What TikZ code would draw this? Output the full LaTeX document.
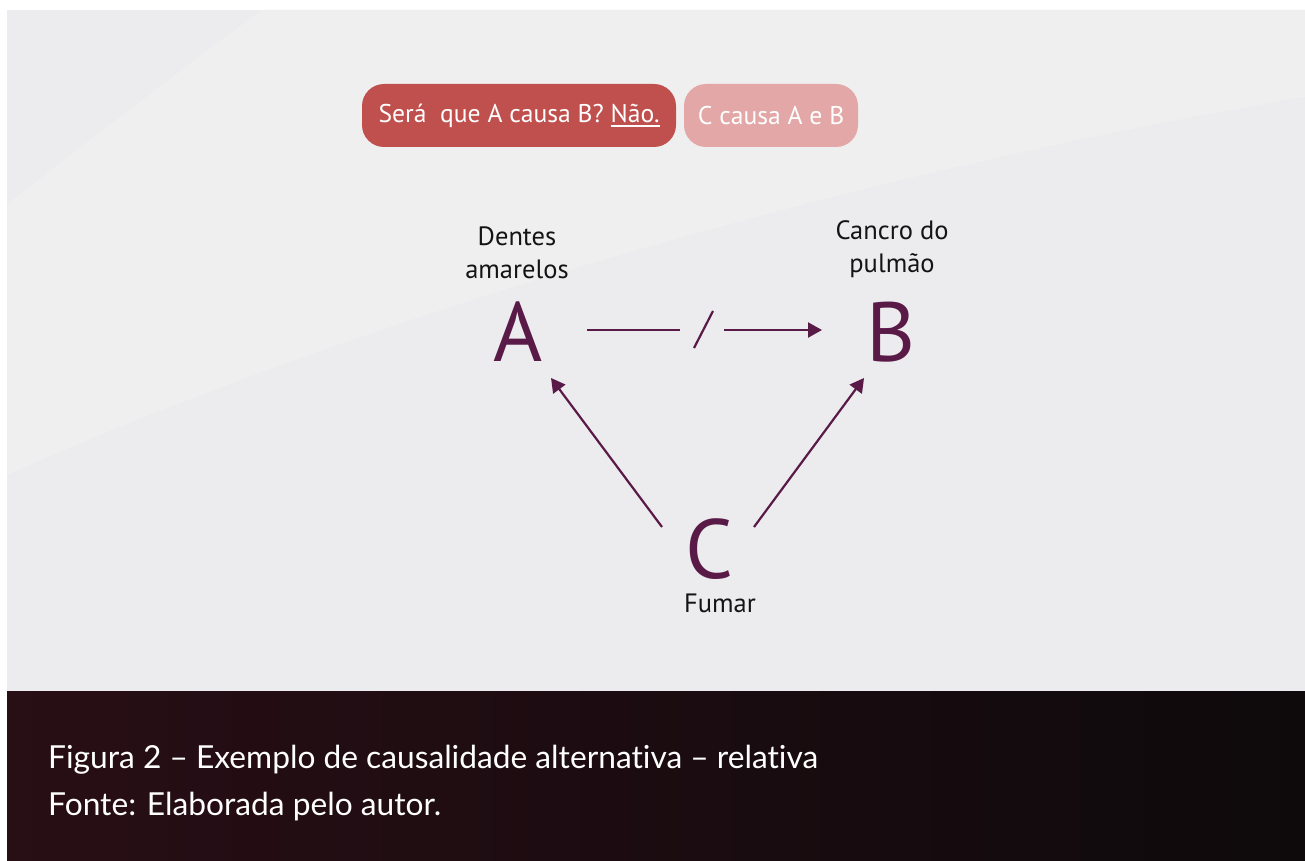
\documentclass[tikz,border=0pt]{standalone}
\usepackage{fontspec}
\setmainfont{PT Sans}
\newfontfamily\capfont[Ligatures=NoCommon]{Lato}
\usetikzlibrary{arrows.meta}

\definecolor{panelA}{HTML}{ECECEE}
\definecolor{panelB}{HTML}{EFEFEF}
\definecolor{pillDark}{HTML}{C0504D}
\definecolor{pillLight}{HTML}{E2A7A6}
\definecolor{plum}{HTML}{5A1A48}
\definecolor{ink}{HTML}{141414}
\definecolor{barL}{RGB}{40,14,21}
\definecolor{barR}{RGB}{14,10,12}

% underline drawn as a thick white bar below the word
\newcommand\thickul[1]{{\setbox0\hbox{#1}\rlap{\rule[-4.5pt]{\wd0}{2pt}}\box0}}

\tikzset{
  pill/.style={rectangle, rounded corners=22pt, minimum height=63pt, inner sep=0pt,
    text=white, font=\fontsize{25.6}{30}\selectfont},
  bigletter/.style={anchor=base, text=plum, inner sep=0pt, font=\fontsize{84}{90}\selectfont},
  label/.style={align=center, text=ink, inner sep=0pt, font=\fontsize{26.5}{33}\selectfont},
  causal/.style={draw=plum, line width=2.2pt, -{Triangle[length=14pt,width=15pt]}},
  plainline/.style={draw=plum, line width=2.2pt},
  caption/.style={anchor=base west, text=white, inner sep=0pt, font=\capfont\fontsize{31.7}{36}\selectfont}
}

\begin{document}
\begin{tikzpicture}[x=1pt, y=-1pt]
  \useasboundingbox (0,0) rectangle (1305,861);
  \fill[white] (0,0) rectangle (1305,861);

  % light panel with soft diagonal bands
  \fill[panelA] (7,10) rectangle (1305,691);
  \fill[panelB] (7,204) .. controls (90,140) and (180,70) .. (262,10) -- (1305,10) -- (1305,97)
       .. controls (900,165) and (400,300) .. (7,475) -- cycle;

  % caption bar
  \shade[left color=barL, right color=barR] (7,691) rectangle (1305,861);

  % question pills
  \node[pill, fill=pillDark, minimum width=314pt] (q) at (519,115.5)
    {Será\ \ que A causa B? \thickul{Não.}};
  \node[pill, fill=pillLight, minimum width=174pt] (ans) at (771,115.5) {C causa A e B};

  % variables
  \node[bigletter] (A) at (518,361) {A};
  \node[bigletter] (B) at (891,361) {B};
  \node[bigletter] (C) at (709,578) {C};

  \node[label] (la) at (517,253) {Dentes\\amarelos};
  \node[label] (lb) at (892,249) {Cancro do\\pulmão};
  \node[label, anchor=base] (lc) at (720,612) {Fumar};

  % connector ends
  \coordinate (aOut) at (587,330);
  \coordinate (gapL) at (680,330);
  \coordinate (slashB) at (694,348);
  \coordinate (slashT) at (713,311);
  \coordinate (gapR) at (724,330);
  \coordinate (bIn) at (822,330);
  \coordinate (cOutL) at (662,527);
  \coordinate (aIn) at (551,378);
  \coordinate (cOutR) at (754,527);
  \coordinate (bInLow) at (864,378);

  % A does not cause B
  \draw[plainline] (aOut) -- (gapL);
  \draw[plainline] (slashB) -- (slashT);
  \draw[causal] (gapR) -- (bIn);

  % C causes both
  \draw[causal] (cOutL) -- (aIn);
  \draw[causal] (cOutR) -- (bInLow);

  % caption
  \node[caption] (cap1) at (48,768) {Figura 2 – Exemplo de causalidade alternativa – relativa};
  \node[caption] (cap2) at (48,815) {Fonte: Elaborada pelo autor.};
\end{tikzpicture}
\end{document}
